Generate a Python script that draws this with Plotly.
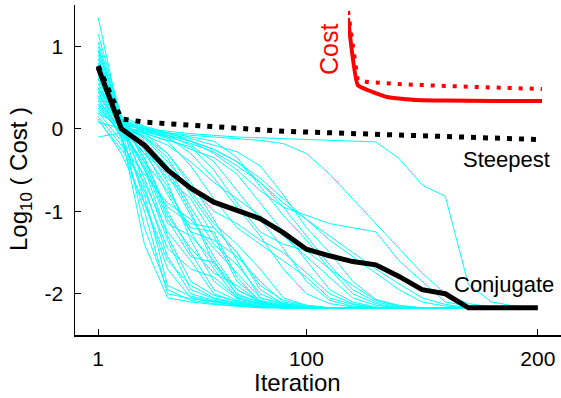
import plotly.graph_objects as go

# ---------------- data ----------------
iteration_index = list(range(20))
tick_vals = [0, 9, 19]
tick_text = ["1", "100", "200"]
y_ticks = [-2, -1, 0, 1]
y_tick_text = ["-2", "-1", "0", "1"]

conjugate = [0.74, 0.00, -0.20, -0.50, -0.72, -0.89, -0.99, -1.09, -1.26, -1.46,
             -1.54, -1.61, -1.65, -1.79, -1.95, -2.00, -2.17, -2.17, -2.17, -2.17]
steepest = [0.76, 0.12, 0.08, 0.06, 0.04, 0.02, 0.00, -0.02, -0.03, -0.04,
            -0.05, -0.06, -0.07, -0.08, -0.09, -0.10, -0.11, -0.12, -0.12, -0.13]

F = -2.17
runs = [
    # fast
    [0.30, -0.05, -1.40, -2.05, -2.10, -2.13, -2.15, -2.16, F],
    [0.55, 0.05, -1.20, -1.95, -2.08, -2.12, -2.15, F],
    [0.20, -0.15, -1.00, -2.00, -2.06, -2.10, -2.14, -2.16, F],
    [0.85, 0.10, -0.90, -1.70, -2.05, -2.10, -2.14, F],
    [0.45, -0.10, -0.80, -1.90, -2.03, -2.09, -2.13, -2.16, F],
    [1.05, 0.15, -0.70, -1.55, -2.00, -2.08, -2.13, -2.16, F],
    [0.65, 0.00, -0.60, -1.35, -1.95, -2.06, -2.12, -2.15, F],
    # medium
    [0.40, 0.05, -0.35, -1.00, -1.50, -1.95, -2.08, -2.13, -2.16, F],
    [0.75, 0.10, -0.25, -0.80, -1.25, -1.70, -2.05, -2.12, -2.16, F],
    [0.25, -0.05, -0.40, -0.75, -1.20, -1.25, -1.80, -2.10, -2.15, F],
    [1.35, 0.05, -0.30, -0.55, -1.05, -1.55, -1.95, -2.10, -2.15, F],
    [0.60, 0.12, -0.20, -0.65, -1.35, -1.85, -2.06, -2.12, -2.16, F],
    [0.90, 0.08, -0.15, -0.45, -0.95, -1.40, -1.65, -2.00, -2.12, -2.16, F],
    [0.50, 0.02, -0.45, -1.15, -1.30, -1.60, -2.02, -2.10, -2.15, F],
    [0.15, -0.20, -0.55, -0.90, -1.10, -1.45, -1.75, -2.05, -2.13, F],
    [0.70, 0.06, -0.10, -0.35, -0.80, -1.20, -1.50, -1.90, -2.08, -2.14, F],
    [0.35, 0.00, -0.30, -0.70, -1.25, -1.35, -1.55, -1.85, -2.10, -2.15, F],
    [1.00, 0.12, -0.05, -0.30, -0.65, -1.10, -1.60, -2.05, -2.12, -2.16, F],
    [0.10, -0.25, -0.65, -1.25, -1.60, -2.00, -2.10, -2.15, F],
    [0.55, 0.04, -0.25, -0.60, -0.85, -1.30, -1.85, -2.08, -2.14, F],
    [0.80, 0.10, -0.35, -1.05, -1.45, -1.75, -1.90, -2.10, -2.16, F],
    [0.45, 0.02, -0.50, -0.95, -1.15, -1.20, -1.50, -1.95, -2.12, -2.16, F],
    [0.28, -0.08, -0.20, -0.50, -1.00, -1.65, -2.00, -2.11, -2.15, F],
    [0.62, 0.08, -0.12, -0.40, -0.75, -1.15, -1.40, -1.70, -2.05, -2.14, F],
    [0.38, -0.12, -0.75, -1.45, -1.70, -1.80, -2.04, -2.12, -2.16, F],
    [0.68, 0.03, -0.48, -1.30, -1.85, -2.02, -2.09, -2.14, F],
    [0.12, -0.30, -0.90, -1.60, -1.90, -2.05, -2.11, -2.15, F],
    [0.95, 0.14, -0.40, -1.10, -1.55, -1.62, -1.95, -2.09, -2.15, F],
    # slow
    [0.50, 0.10, 0.00, -0.10, -0.30, -0.60, -0.95, -1.30, -1.70, -2.00, -2.12, -2.16, F],
    [0.95, 0.12, 0.02, -0.08, -0.20, -0.40, -0.75, -1.10, -1.45, -1.85, -2.08, -2.15, F],
    [0.30, 0.00, -0.05, -0.15, -0.45, -0.85, -1.20, -1.40, -1.60, -1.80, -2.05, -2.13, F],
    [0.72, 0.08, -0.02, -0.12, -0.25, -0.35, -0.55, -0.90, -1.25, -1.60, -1.95, -2.10, -2.16, F],
    [1.15, 0.15, 0.03, -0.05, -0.15, -0.25, -0.40, -0.65, -0.95, -1.30, -1.65, -1.95, -2.10, -2.16, F],
    [0.40, 0.03, -0.10, -0.30, -0.70, -1.00, -1.15, -1.35, -1.50, -1.75, -2.00, -2.12, F],
    [0.22, -0.02, -0.08, -0.20, -0.40, -0.65, -0.85, -1.05, -1.30, -1.55, -1.80, -2.05, -2.14, F],
    [0.85, 0.10, 0.00, -0.05, -0.10, -0.15, -0.35, -0.70, -1.05, -1.35, -1.70, -1.90, -2.08, -2.15, F],
    [0.60, 0.06, -0.02, -0.08, -0.15, -0.30, -0.50, -0.75, -0.95, -1.05, -1.15, -1.20, -1.25, -1.60, -1.85, -2.10, -2.15, F],
    [0.33, 0.02, -0.04, -0.10, -0.18, -0.28, -0.45, -0.65, -0.90, -1.10, -1.35, -1.55, -1.75, -1.95, -2.10, -2.15, F],
    [0.18, 0.04, 0.00, -0.03, -0.06, -0.08, -0.10, -0.11, -0.12, -0.13, -0.14, -0.15, -0.16, -0.36, -0.68, -0.82, -1.89, -2.10, -2.15, F],
    [0.08, 0.00, -0.02, -0.05, -0.08, -0.10, -0.12, -0.14, -0.18, -0.30, -0.55, -0.85, -1.15, -1.45, -1.75, -2.00, -2.12, -2.16, F],
    [-0.10, -0.05, -0.05, -0.08, -0.15, -0.25, -0.40, -0.60, -0.85, -1.10, -1.30, -1.50, -1.70, -1.88, -2.05, -2.13, F],
    [0.48, 0.05, -0.06, -0.14, -0.22, -0.50, -0.90, -1.25, -1.40, -1.48, -1.70, -2.00, -2.12, F],
    [0.78, 0.09, 0.01, -0.06, -0.12, -0.20, -0.28, -0.45, -0.80, -1.20, -1.50, -1.85, -2.07, -2.14, F],
]

# inset (raw cost, top right)
inset_x_solid = [0, 1, 2, 4, 7, 10, 15, 20]
inset_solid = [9.2, 2.5, 2.0, 1.3, 1.0, 0.95, 0.9, 0.9]
inset_x_dot = [0, 1, 2, 5, 10, 15, 20]
inset_dot = [9.9, 3.0, 2.8, 2.6, 2.4, 2.25, 2.1]

# ---------------- figure ----------------
W, H = 561, 398
ML, MR, MT, MB = 75, 0, 5, 63
PW, PH = W - ML - MR, H - MT - MB


def px(xp):
    return (xp - ML) / PW


def py(yp):
    return (H - MB - yp) / PH


fig = go.Figure()

for r in runs:
    vals = r + [F] * (20 - len(r))
    fig.add_trace(go.Scatter(x=iteration_index, y=vals, mode="lines",
                             line=dict(color="#00FFFF", width=1),
                             showlegend=False, hoverinfo="skip"))

fig.add_trace(go.Scatter(x=iteration_index, y=steepest, mode="lines",
                         line=dict(color="black", width=5, dash="5px,7px"),
                         showlegend=False))
fig.add_trace(go.Scatter(x=iteration_index, y=conjugate, mode="lines",
                         line=dict(color="black", width=5),
                         showlegend=False))

fig.add_trace(go.Scatter(x=inset_x_dot, y=inset_dot, mode="lines",
                         line=dict(color="#FF0000", width=4, dash="4px,7px"),
                         xaxis="x2", yaxis="y2", showlegend=False))
fig.add_trace(go.Scatter(x=inset_x_solid, y=inset_solid, mode="lines",
                         line=dict(color="#FF0000", width=4, shape="spline", smoothing=0.4),
                         xaxis="x2", yaxis="y2", showlegend=False))

font = "Liberation Sans, Arial, sans-serif"

fig.update_layout(
    width=W, height=H,
    margin=dict(l=ML, r=MR, t=MT, b=MB, autoexpand=False),
    paper_bgcolor="white", plot_bgcolor="white",
    font=dict(family=font, color="black"),
    xaxis=dict(range=[-1, 20], tickvals=tick_vals, ticktext=tick_text,
               showline=True, linecolor="black", linewidth=1.5,
               ticks="inside", ticklen=6, tickwidth=1, tickcolor="black",
               showgrid=False, zeroline=False, tickfont=dict(size=21),
               ticklabelstandoff=4, automargin=False),
    yaxis=dict(range=[-2.5, 1.5], tickvals=y_ticks, ticktext=y_tick_text,
               showline=True, linecolor="black", linewidth=1.5,
               ticks="inside", ticklen=6, tickwidth=1, tickcolor="black",
               showgrid=False, zeroline=False, tickfont=dict(size=21),
               ticklabelstandoff=6, automargin=False),
    xaxis2=dict(domain=[px(348), px(542)], range=[0, 20], anchor="y2",
                visible=False),
    yaxis2=dict(domain=[py(110), py(10)], range=[0, 10], anchor="x2",
                visible=False),
)

fig.add_annotation(text="Iteration", xref="paper", yref="paper",
                   x=px(297), y=py(382), showarrow=False,
                   font=dict(size=24, family=font), xanchor="center", yanchor="middle")
fig.add_annotation(text="Log<sub>10</sub> ( Cost )", xref="paper", yref="paper",
                   x=px(20), y=py(179), showarrow=False, textangle=-90,
                   font=dict(size=24, family=font), xanchor="center", yanchor="middle")
fig.add_annotation(text="Steepest", xref="paper", yref="paper",
                   x=px(506), y=py(159), showarrow=False,
                   font=dict(size=22, family=font), xanchor="center", yanchor="middle")
fig.add_annotation(text="Conjugate", xref="paper", yref="paper",
                   x=px(504), y=py(284), showarrow=False,
                   font=dict(size=22, family=font), xanchor="center", yanchor="middle")
fig.add_annotation(text="Cost", xref="paper", yref="paper",
                   x=px(329), y=py(50), showarrow=False, textangle=-90,
                   font=dict(size=25, family=font, color="#FF0000"),
                   xanchor="center", yanchor="middle")

fig.write_html("out.html",
               config={"displayModeBar": False, "staticPlot": True},
               post_script="document.body.style.margin='0';document.body.style.overflow='hidden';")
